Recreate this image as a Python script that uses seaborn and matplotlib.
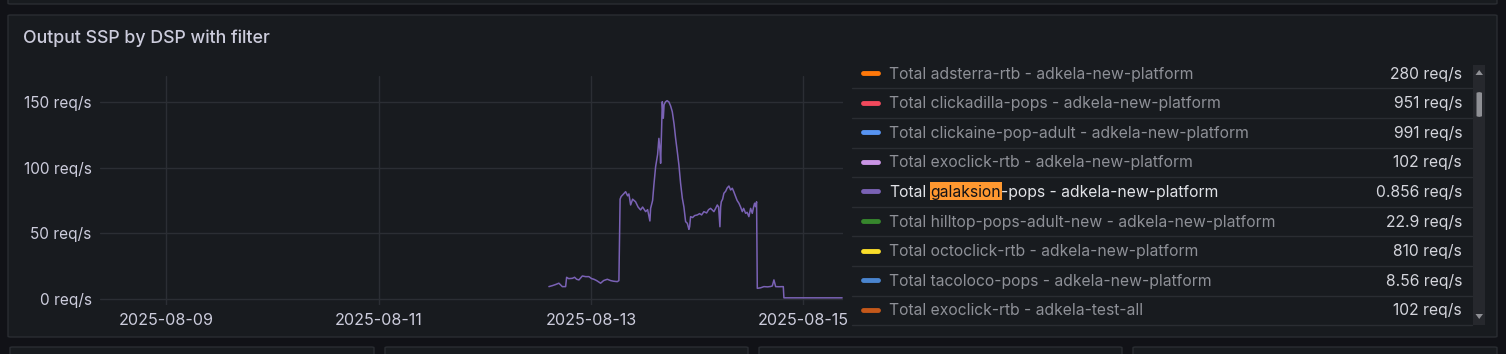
import matplotlib
matplotlib.use("Agg")
import matplotlib.pyplot as plt
import matplotlib.dates as mdates
from matplotlib.patches import Rectangle, FancyBboxPatch, Polygon
from matplotlib.lines import Line2D
import seaborn as sns
import pandas as pd

# ---------------- data ----------------
title = "Output SSP by DSP with filter"

# galaksion series: hours relative to 2025-08-13 00:00, values in req/s
hours = [-9.5, -8.66, -7.98, -7.24, -6.47, -5.72, -5.49, -5.04, -4.2, -3.69,
         -3.23, -2.71, -1.94, -1.2, -0.45, 0.16, 0.68, 1.29, 2.19, 2.87,
         3.71, 4.45, 5.13, 5.97, 6.33, 6.6, 6.83, 7.39, 7.85, 8.3,
         8.59, 8.98, 9.43, 10.1, 10.67, 11.24, 11.69, 12.37, 12.82, 13.34,
         13.5, 13.95, 14.24, 14.63, 15.08, 15.37, 15.65, 15.76, 15.99, 16.14,
         16.37, 16.55, 16.89, 17.23, 17.64, 18.02, 18.4, 18.81, 19.15, 19.54,
         19.9, 20.28, 20.67, 21.03, 21.41, 21.8, 22.16, 22.32, 22.54, 23.0,
         23.45, 24.06, 24.58, 25.03, 25.55, 26.16, 26.61, 27.06, 27.52, 27.81,
         28.2, 28.58, 28.87, 29.17, 29.33, 29.48, 29.78, 30.07, 30.46, 30.8,
         31.2, 31.59, 31.97, 32.27, 32.72, 33.06, 33.47, 33.85, 34.23, 34.53,
         34.98, 35.32, 35.72, 36.11, 36.49, 36.78, 37.01, 37.24, 37.46, 37.62,
         38.37, 39.12, 39.95, 40.63, 41.02, 41.38, 41.77, 42.45, 43.5, 43.64,
         47.4, 56.8]
values = [9.4, 10.2, 11, 12, 9.4, 9.4, 16.5, 15.5, 15.7, 16.5,
          15, 14.5, 17.5, 17, 17, 15.5, 15, 14, 12, 14,
          15, 14, 13.5, 13.2, 14, 76, 78, 80, 81.7, 78.5,
          80, 71.6, 76, 74, 70, 67.8, 70, 66.5, 68, 59.4,
          69, 75, 86.8, 100.7, 110, 122.3, 112, 103.3, 130, 150.2,
          137.6, 148, 150.2, 151, 150, 147, 142.6, 133, 122.4, 112,
          102, 88, 76.7, 70, 58.9, 57.6, 53, 55, 62.7, 62,
          63.5, 64, 65, 64, 66.5, 65.5, 68, 69, 67.5, 66.5,
          69, 71.6, 70, 55, 70, 74, 76, 80.5, 82, 84.5,
          86, 83, 84.3, 82, 78, 75, 72.9, 70, 66.5, 69,
          65.2, 66, 62.7, 69, 65.2, 70, 72.9, 70.3, 74, 8.1,
          8.5, 9.4, 9.2, 9.5, 9.9, 14.5, 9.4, 9.3, 9.4, 0.86,
          0.86, 0.86]

y_ticks = [0, 50, 100, 150]
x_ticks = ["2025-08-09", "2025-08-11", "2025-08-13", "2025-08-15"]
x_range = ["2025-08-08 09:00", "2025-08-15 09:00"]

legend_names = [
    "Total adsterra-rtb - adkela-new-platform",
    "Total clickadilla-pops - adkela-new-platform",
    "Total clickaine-pop-adult - adkela-new-platform",
    "Total exoclick-rtb - adkela-new-platform",
    "Total galaksion-pops - adkela-new-platform",
    "Total hilltop-pops-adult-new - adkela-new-platform",
    "Total octoclick-rtb - adkela-new-platform",
    "Total tacoloco-pops - adkela-new-platform",
    "Total exoclick-rtb - adkela-test-all",
]
legend_values = ["280 req/s", "951 req/s", "991 req/s", "102 req/s", "0.856 req/s",
                 "22.9 req/s", "810 req/s", "8.56 req/s", "102 req/s"]
legend_colors = ["#FF780A", "#F2495C", "#5794F2", "#CA95E5", "#7A62B5",
                 "#37872D", "#FADE2A", "#4A85CF", "#C4581A"]
active_series = "Total galaksion-pops - adkela-new-platform"
search_term = "galaksion"

# ---------------- style ----------------
sns.set_theme(style="dark")
plt.rcParams["font.family"] = ["Inter", "DejaVu Sans"]

W, H = 1506, 354
BG = "#111217"
PANEL = "#181b1f"
BORDER = "#2a2d32"
GRID = "#2b2e34"
TXT = "#ccccdc"

fig = plt.figure(figsize=(W / 100, H / 100), dpi=100)
fig.patch.set_facecolor(BG)


def fx(px):
    return px / W


def fy(py):
    return 1 - py / H


def panel(x0, y0, x1, y1):
    p = FancyBboxPatch((fx(x0), fy(y1)), fx(x1) - fx(x0), fy(y0) - fy(y1),
                       boxstyle="round,pad=0,rounding_size=0.002",
                       transform=fig.transFigure, facecolor=PANEL,
                       edgecolor=BORDER, linewidth=1, zorder=0)
    fig.add_artist(p)


panel(8, -20, 1497, 4)
panel(8, 15, 1497, 337)
for a, b in [(10, 374), (385, 748), (759, 1122), (1133, 1497)]:
    panel(a, 347, b, 380)

fig.text(fx(23), fy(43), title, color=TXT, fontsize=12.8, fontweight="medium",
         va="baseline", ha="left")

# ---------------- chart ----------------
t0 = pd.Timestamp("2025-08-13")
df = pd.DataFrame({"time": t0 + pd.to_timedelta(hours, unit="h"), "value": values})

ax = fig.add_axes([fx(100), fy(305), fx(843) - fx(100), (305 - 76) / H])
ax.set_facecolor("none")
sns.lineplot(data=df, x="time", y="value", ax=ax, color=legend_colors[4],
             linewidth=1.1, estimator=None, errorbar=None)
ax.set_xlim(pd.Timestamp(x_range[0]), pd.Timestamp(x_range[1]))
ax.set_ylim(-4.6, 169.8)
ax.set_yticks(y_ticks)
ax.set_yticklabels([f"{v} req/s" for v in y_ticks])
ax.set_xticks([pd.Timestamp(s) for s in x_ticks])
ax.xaxis.set_major_formatter(mdates.DateFormatter("%Y-%m-%d"))
ax.set_xlabel("")
ax.set_ylabel("")
ax.grid(True, color=GRID, linewidth=1)
ax.set_axisbelow(True)
for s in ax.spines.values():
    s.set_visible(False)
ax.tick_params(axis="both", length=0, labelcolor=TXT)
ax.tick_params(axis="y", pad=6, labelsize=11.1)
ax.tick_params(axis="x", pad=6, labelsize=11.6)

# ---------------- legend ----------------
renderer = fig.canvas.get_renderer()


def text_w(s, **kw):
    t = fig.text(0, 0, s, **kw)
    w = t.get_window_extent(renderer).width
    t.remove()
    return w


row0, dy = 73, 29.6
lx_sw0, lx_sw1, lx_txt, lx_val = 863, 878, 889, 1462
FS = 11.3
for i, (name, val, col) in enumerate(zip(legend_names, legend_values, legend_colors)):
    yc = row0 + i * dy
    base = yc + 5.5
    fig.add_artist(Line2D([fx(lx_sw0), fx(lx_sw1)], [fy(yc), fy(yc)], color=col,
                          linewidth=3.5, solid_capstyle="round",
                          transform=fig.transFigure))
    active = name == active_series
    ncol = "#e2e3e8" if active else "#8e9097"
    if search_term in name and active:
        pre, post = name.split(search_term, 1)
        pre_s = pre.rstrip()
        fig.text(fx(lx_txt), fy(base), pre_s, color=ncol, fontsize=FS, va="baseline")
        x_hl = lx_txt + text_w(pre + search_term, fontsize=FS) - text_w(search_term, fontsize=FS)
        w_hl = text_w(search_term, fontsize=FS)
        fig.add_artist(Rectangle((fx(x_hl - 1), fy(yc + 9)), (w_hl + 2) / W, 18 / H,
                                 transform=fig.transFigure, facecolor="#FF9830",
                                 edgecolor="none", zorder=2))
        fig.text(fx(x_hl), fy(base), search_term, color="#111217", fontsize=FS,
                 va="baseline", zorder=3)
        x_post = lx_txt + text_w(pre + search_term + "x", fontsize=FS) - text_w("x", fontsize=FS)
        fig.text(fx(x_post), fy(base), post, color=ncol, fontsize=FS, va="baseline")
    else:
        fig.text(fx(lx_txt), fy(base), name, color=ncol, fontsize=FS, va="baseline")
    fig.text(fx(lx_val), fy(base), val, color="#d4d5dc", fontsize=FS, va="baseline",
             ha="right")
    sep = yc + 15.3
    fig.add_artist(Line2D([fx(852), fx(1472)], [fy(sep), fy(sep)], color=BORDER,
                          linewidth=1, transform=fig.transFigure))

# scrollbar
fig.add_artist(Rectangle((fx(1473), fy(325)), 12 / W, 260 / H, transform=fig.transFigure,
                         facecolor="#26282d", edgecolor="none"))
fig.add_artist(FancyBboxPatch((fx(1476.5), fy(117)), 5.5 / W, 25 / H,
                              boxstyle="round,pad=0,rounding_size=0.003",
                              transform=fig.transFigure, facecolor="#8f9095",
                              edgecolor="none"))
fig.add_artist(Polygon([[fx(1475.5), fy(75)], [fx(1483), fy(75)], [fx(1479.2), fy(70)]],
                       closed=True, transform=fig.transFigure, facecolor="#8f9095",
                       edgecolor="none"))
fig.add_artist(Polygon([[fx(1475.5), fy(314)], [fx(1483), fy(314)], [fx(1479.2), fy(319)]],
                       closed=True, transform=fig.transFigure, facecolor="#8f9095",
                       edgecolor="none"))

fig.savefig("out.png", dpi=100, facecolor=BG)
